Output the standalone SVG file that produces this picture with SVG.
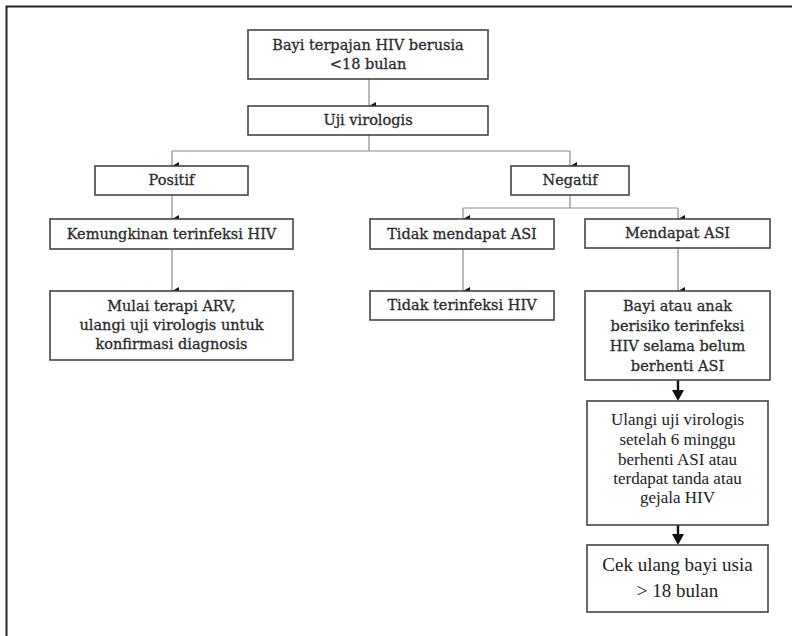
<svg xmlns="http://www.w3.org/2000/svg" width="792" height="636" viewBox="0 0 792 636">
<style>
.box{fill:#fff;stroke:#444;stroke-width:1.6}
.t{font-family:"DejaVu Serif","Liberation Serif",serif;font-size:14.5px;fill:#2a2a2a;text-anchor:middle;stroke:#2a2a2a;stroke-width:0.3}
.t2{font-family:"Liberation Serif","Times New Roman",serif;font-size:17px;fill:#222;text-anchor:middle}
.t3{font-family:"Liberation Serif","Times New Roman",serif;font-size:19px;fill:#222;text-anchor:middle}
.c{fill:none;stroke:#8a8a8a;stroke-width:1.2}
.ct{fill:none;stroke:#111;stroke-width:2.4}
</style>
<defs>
<marker id="a" markerWidth="8" markerHeight="8" refX="4" refY="7" orient="auto-start-reverse" markerUnits="userSpaceOnUse" viewBox="0 0 8 8"><path d="M0,0 L8,0 L4,7 z" fill="#111"/></marker>
</defs>
<rect width="792" height="636" fill="#fff"/>
<path d="M6.5,636 V6.5 H792" fill="none" stroke="#222" stroke-width="2"/>
<g id="connectors">
<path class="c" d="M369,79 V106" marker-end="url(#a)"/>
<path class="c" d="M369,135 V151"/>
<path class="c" d="M172,151 H570"/>
<path class="c" d="M172,151 V166" marker-end="url(#a)"/>
<path class="c" d="M570,151 V166" marker-end="url(#a)"/>
<path class="c" d="M172,195 V219" marker-end="url(#a)"/>
<path class="c" d="M172,249 V291" marker-end="url(#a)"/>
<path class="c" d="M570,195 V208"/>
<path class="c" d="M463,208 H678"/>
<path class="c" d="M463,208 V219" marker-end="url(#a)"/>
<path class="c" d="M678,208 V219" marker-end="url(#a)"/>
<path class="c" d="M463,249 V291" marker-end="url(#a)"/>
<path class="c" d="M678,248 V291" marker-end="url(#a)"/>
<path class="ct" d="M678,380 V391"/>
<path d="M672,390 L684,390 L678,401 z" fill="#111"/>
<path class="ct" d="M678,525 V535"/>
<path d="M672,534 L684,534 L678,545 z" fill="#111"/>
</g>
<g id="n1"><rect class="box" x="248" y="30" width="240" height="49"/>
<text class="t" x="368" y="50">Bayi terpajan HIV berusia</text>
<text class="t" x="368" y="69">&lt;18 bulan</text></g>
<g id="n2"><rect class="box" x="248" y="106" width="240" height="29"/>
<text class="t" x="368" y="125">Uji virologis</text></g>
<g id="n3"><rect class="box" x="95" y="166" width="153" height="29"/>
<text class="t" x="171.5" y="185">Positif</text></g>
<g id="n4"><rect class="box" x="511" y="166" width="118" height="29"/>
<text class="t" x="570" y="185">Negatif</text></g>
<g id="n5"><rect class="box" x="50" y="219" width="243" height="30"/>
<text class="t" x="171.5" y="239">Kemungkinan terinfeksi HIV</text></g>
<g id="n6"><rect class="box" x="50" y="291" width="243" height="69"/>
<text class="t" x="171.5" y="311">Mulai terapi ARV,</text>
<text class="t" x="171.5" y="330">ulangi uji virologis untuk</text>
<text class="t" x="171.5" y="349">konfirmasi diagnosis</text></g>
<g id="n7"><rect class="box" x="370" y="219" width="184" height="30"/>
<text class="t" x="462" y="239">Tidak mendapat ASI</text></g>
<g id="n8"><rect class="box" x="585" y="219" width="185" height="29"/>
<text class="t" x="677.5" y="238">Mendapat ASI</text></g>
<g id="n9"><rect class="box" x="370" y="291" width="184" height="29"/>
<text class="t" x="462" y="310">Tidak terinfeksi HIV</text></g>
<g id="n10"><rect class="box" x="585" y="291" width="185" height="89"/>
<text class="t" x="677.5" y="311">Bayi atau anak</text>
<text class="t" x="677.5" y="331">berisiko terinfeksi</text>
<text class="t" x="677.5" y="351">HIV selama belum</text>
<text class="t" x="677.5" y="371">berhenti ASI</text></g>
<g id="n11"><rect class="box" x="587" y="401" width="181" height="124"/>
<text class="t2" x="677.5" y="425">Ulangi uji virologis</text>
<text class="t2" x="677.5" y="445">setelah 6 minggu</text>
<text class="t2" x="677.5" y="465">berhenti ASI atau</text>
<text class="t2" x="677.5" y="484">terdapat tanda atau</text>
<text class="t2" x="677.5" y="503">gejala HIV</text></g>
<g id="n12"><rect class="box" x="587" y="545" width="181" height="67"/>
<text class="t3" x="677.5" y="571">Cek ulang bayi usia</text>
<text class="t3" x="677.5" y="597">&gt; 18 bulan</text></g>
</svg>
